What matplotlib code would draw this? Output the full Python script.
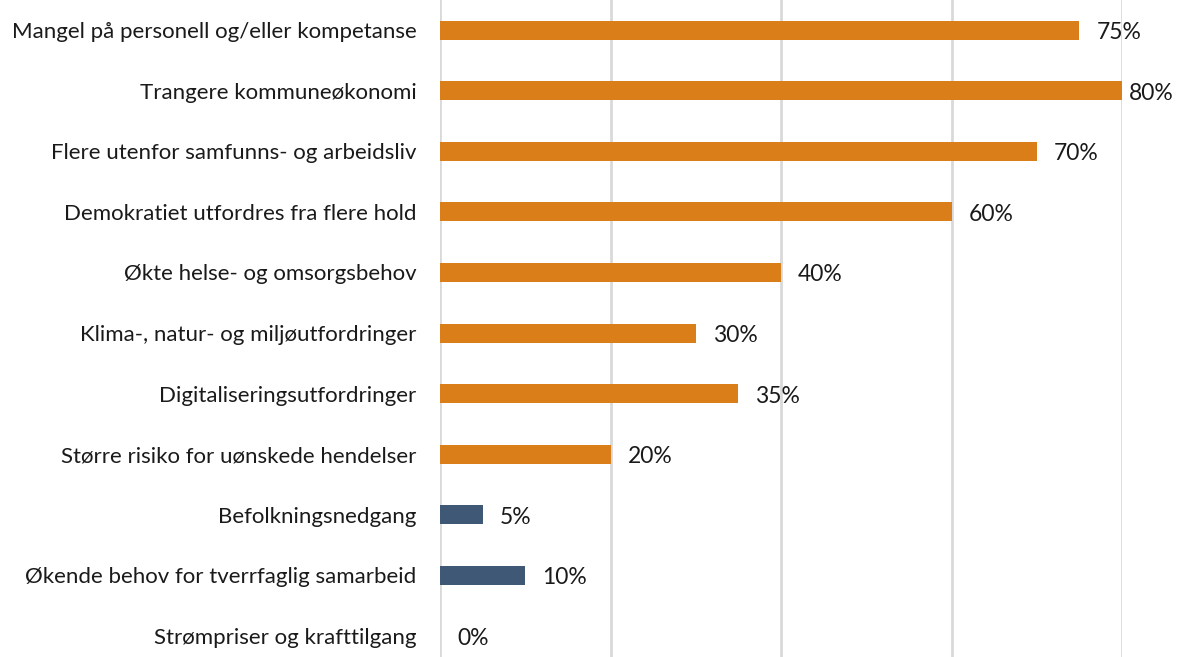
import matplotlib.pyplot as plt

categories = [
    "Mangel på personell og/eller kompetanse",
    "Trangere kommuneøkonomi",
    "Flere utenfor samfunns- og arbeidsliv",
    "Demokratiet utfordres fra flere hold",
    "Økte helse- og omsorgsbehov",
    "Klima-, natur- og miljøutfordringer",
    "Digitaliseringsutfordringer",
    "Større risiko for uønskede hendelser",
    "Befolkningsnedgang",
    "Økende behov for tverrfaglig samarbeid",
    "Strømpriser og krafttilgang",
]
values = [75, 80, 70, 60, 40, 30, 35, 20, 5, 10, 0]
groups = ["o", "o", "o", "o", "o", "o", "o", "o", "b", "b", "b"]

colors = {"o": "#D97E18", "b": "#3E5875"}

plt.rcParams["font.family"] = ["Lato", "DejaVu Sans"]

fig = plt.figure(figsize=(11.78, 6.57), dpi=100)
ax = fig.add_axes([440 / 1178, 0, (1122 - 440) / 1178, 1])

pos = list(range(len(categories)))
ax.barh(pos, values, height=0.315, color=[colors[g] for g in groups], zorder=3)

# labels sit right of the bar, pulled in at the far edge so they fit
for p, v in zip(pos, values):
    ax.text(min(v + 2.0, 80.8), p + 0.04, f"{v}%", va="center", ha="left",
            fontsize=16.5, color="#1a1a1a", clip_on=False)

ax.set_xlim(0, 80)
ax.set_ylim(10.35, -0.5)
ax.set_xticks([0, 20, 40, 60, 80])
ax.set_xticklabels([])
ax.xaxis.grid(True, color="#D9D9D9", linewidth=2)
ax.set_yticks(pos)
ax.set_yticklabels(categories, fontsize=16, color="#1a1a1a")
ax.tick_params(axis="both", length=0, pad=17)
for s in ax.spines.values():
    s.set_visible(False)

fig.savefig("out.png", dpi=100)
